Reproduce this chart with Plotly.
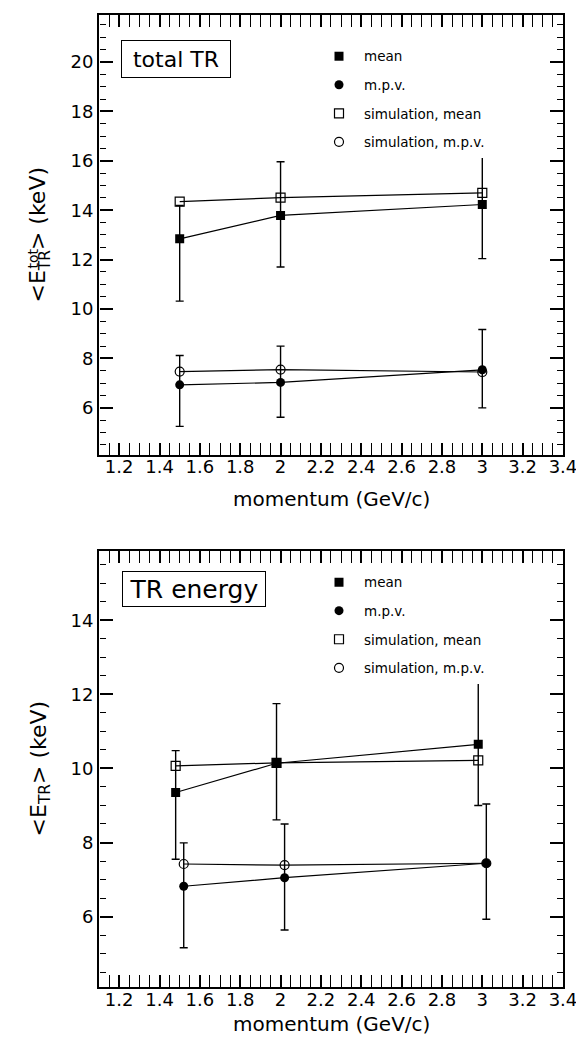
import plotly.graph_objects as go

# ---------------- data ----------------
# top panel: total TR
top_x = [1.5, 2.0, 3.0]
top_mean = [12.84, 13.79, 14.23]
top_mean_up = [1.35, 2.17, 2.30]
top_mean_down = [2.52, 2.09, 2.19]
top_mpv = [6.93, 7.03, 7.54]
top_mpv_up = [1.19, 1.47, 1.63]
top_mpv_down = [1.68, 1.41, 1.54]
top_sim_mean = [14.35, 14.51, 14.70]
top_sim_mpv = [7.47, 7.55, 7.45]

# bottom panel: TR energy
bot_x_sq = [1.48, 1.98, 2.98]
bot_x_ci = [1.52, 2.02, 3.02]
bot_mean = [9.35, 10.14, 10.65]
bot_mean_up = [1.13, 1.61, 1.95]
bot_mean_down = [1.80, 1.53, 1.65]
bot_mpv = [6.82, 7.05, 7.44]
bot_mpv_up = [1.17, 1.45, 1.60]
bot_mpv_down = [1.66, 1.41, 1.51]
bot_sim_mean = [10.07, 10.15, 10.22]
bot_sim_mpv = [7.42, 7.39, 7.44]

legend_names = ["mean", "m.p.v.", "simulation, mean", "simulation, m.p.v."]
x_title = "momentum (GeV/c)"
panel_labels = ["total TR", "TR energy"]

FONT = "DejaVu Sans, Verdana, sans-serif"
W, H = 584, 1041
MT, MB, ML, MR = 5, 62, 91, 29
PH = H - MT - MB
PW = W - ML - MR


def py(px):
    return 1 - (px - MT) / PH


def pxx(px):
    return (px - ML) / PW


fig = go.Figure()


def add_panel(xa, ya, leg, xs_sq, xs_ci, mean, mup, mdn, mpv, pup, pdn, smean, smpv, tick_axes):
    line = dict(color="black", width=1.2)
    for xs, ys in [(xs_sq, smean), (xs_sq, mean), (xs_ci, smpv), (xs_ci, mpv)]:
        fig.add_trace(go.Scatter(x=xs, y=ys, mode="lines", line=line, showlegend=False,
                                 hoverinfo="skip", xaxis=xa, yaxis=ya))
    err = dict(color="black", thickness=1.4, width=4)
    fig.add_trace(go.Scatter(
        x=xs_sq, y=mean, mode="markers", name=legend_names[0], legend=leg, legendgroup=leg + "a",
        marker=dict(symbol="square", size=9, color="black"),
        error_y=dict(type="data", symmetric=False, array=mup, arrayminus=mdn, **err),
        xaxis=xa, yaxis=ya))
    fig.add_trace(go.Scatter(
        x=xs_ci, y=mpv, mode="markers", name=legend_names[1], legend=leg, legendgroup=leg + "b",
        marker=dict(symbol="circle", size=9, color="black"),
        error_y=dict(type="data", symmetric=False, array=pup, arrayminus=pdn, **err),
        xaxis=xa, yaxis=ya))
    fig.add_trace(go.Scatter(
        x=xs_sq, y=smean, mode="markers", name=legend_names[2], legend=leg, legendgroup=leg + "c",
        marker=dict(symbol="square-open", size=9, color="black", line=dict(width=1.2)),
        xaxis=xa, yaxis=ya))
    fig.add_trace(go.Scatter(
        x=xs_ci, y=smpv, mode="markers", name=legend_names[3], legend=leg, legendgroup=leg + "d",
        marker=dict(symbol="circle-open", size=9, color="black", line=dict(width=1.2)),
        xaxis=xa, yaxis=ya))
    # invisible copies so the tick-only overlay axes get drawn
    for ta in tick_axes:
        fig.add_trace(go.Scatter(x=xs_sq, y=mean, mode="markers", marker=dict(opacity=0),
                                 showlegend=False, hoverinfo="skip", xaxis=xa, yaxis=ta))


add_panel("x", "y", "legend", top_x, top_x, top_mean, top_mean_up, top_mean_down,
          top_mpv, top_mpv_up, top_mpv_down, top_sim_mean, top_sim_mpv, ["y3", "y4"])
add_panel("x2", "y2", "legend2", bot_x_sq, bot_x_ci, bot_mean, bot_mean_up, bot_mean_down,
          bot_mpv, bot_mpv_up, bot_mpv_down, bot_sim_mean, bot_sim_mpv, ["y5", "y6"])

top_dom = [py(445.7), 1.0]
bot_dom = [0.0, py(541.7)]
top_range = [4.1, 21.9]
bot_range = [4.1, 15.88]

tickfont = dict(size=18, color="black", family=FONT)
legend_common = dict(bgcolor="white", borderwidth=0, font=dict(size=13.5, color="black", family=FONT),
                     tracegroupgap=8, itemwidth=40, xanchor="left", yanchor="top")


def xaxis_cfg(anchor):
    return dict(domain=[0, 1], anchor=anchor, range=[1.1, 3.4001], dtick=0.2, tick0=0,
                ticks="inside", ticklen=12, tickwidth=1.5, tickcolor="black",
                showline=True, linewidth=2, linecolor="black", mirror="allticks",
                showgrid=False, zeroline=False, tickfont=tickfont, layer="above traces",
                ticklabelstandoff=-5,
                minor=dict(dtick=0.05, ticks="inside", ticklen=6, tickwidth=1, tickcolor="black"))


def yaxis_main(anchor, dom, rng):
    return dict(domain=dom, anchor=anchor, range=rng, dtick=2, tick0=0, ticks="",
                showline=True, linewidth=2, linecolor="black", mirror=True,
                showgrid=False, zeroline=False, tickfont=tickfont)


def ytick_overlay(base, rng, side, pos):
    # tick-only axis sitting on a frame edge, its "outside" ticks pointing into the plot
    return dict(overlaying=base, anchor="free", position=pos, side=side, range=rng,
                dtick=2, tick0=0, ticks="outside", ticklen=13, tickwidth=1.5, tickcolor="black",
                showticklabels=False, showline=False, showgrid=False, zeroline=False,
                minor=dict(dtick=0.5, ticks="outside", ticklen=6, tickwidth=1, tickcolor="black"))


fig.update_layout(
    width=W, height=H, margin=dict(l=ML, r=MR, t=MT, b=MB),
    paper_bgcolor="white", plot_bgcolor="white",
    font=dict(family=FONT, color="black"),
    xaxis=xaxis_cfg("y"),
    yaxis=yaxis_main("x", top_dom, top_range),
    xaxis2=xaxis_cfg("y2"),
    yaxis2=yaxis_main("x2", bot_dom, bot_range),
    yaxis3=ytick_overlay("y", top_range, "right", 0),
    yaxis4=ytick_overlay("y", top_range, "left", 1),
    yaxis5=ytick_overlay("y2", bot_range, "right", 0),
    yaxis6=ytick_overlay("y2", bot_range, "left", 1),
    legend=dict(x=pxx(306), y=py(31), **legend_common),
    legend2=dict(x=pxx(306), y=py(558), **legend_common),
)

ann = []
ann.append(dict(text=panel_labels[0], xref="paper", yref="paper", x=pxx(113), y=py(30),
                xanchor="left", yanchor="top", showarrow=False, font=dict(size=22, family=FONT),
                bordercolor="black", borderwidth=1, borderpad=2, width=104, height=32, bgcolor="white"))
ann.append(dict(text=panel_labels[1], xref="paper", yref="paper", x=pxx(114), y=py(562),
                xanchor="left", yanchor="top", showarrow=False, font=dict(size=25, family=FONT),
                bordercolor="black", borderwidth=1, borderpad=2, width=138, height=30, bgcolor="white"))
ann.append(dict(text=x_title, xref="paper", yref="paper", x=0.5, y=py(490), xanchor="center",
                yanchor="middle", showarrow=False, font=dict(size=20, family=FONT)))
ann.append(dict(text=x_title, xref="paper", yref="paper", x=0.5, y=py(1016), xanchor="center",
                yanchor="middle", showarrow=False, font=dict(size=20, family=FONT)))
ann.append(dict(text="&lt;E<sub>TR</sub>&gt; (keV)", xref="paper", yref="paper", x=pxx(32),
                y=py(225), xanchor="center", yanchor="middle", textangle=-90, showarrow=False,
                font=dict(size=22, family=FONT)))
ann.append(dict(text="tot", xref="paper", yref="paper", x=pxx(25), y=py(249),
                xanchor="center", yanchor="middle", textangle=-90, showarrow=False,
                font=dict(size=14, family=FONT)))
ann.append(dict(text="&lt;E<sub>TR</sub>&gt; (keV)", xref="paper", yref="paper", x=pxx(32),
                y=py(760), xanchor="center", yanchor="middle", textangle=-90, showarrow=False,
                font=dict(size=22, family=FONT)))
fig.update_layout(annotations=ann)

fig.write_html("out.html")
